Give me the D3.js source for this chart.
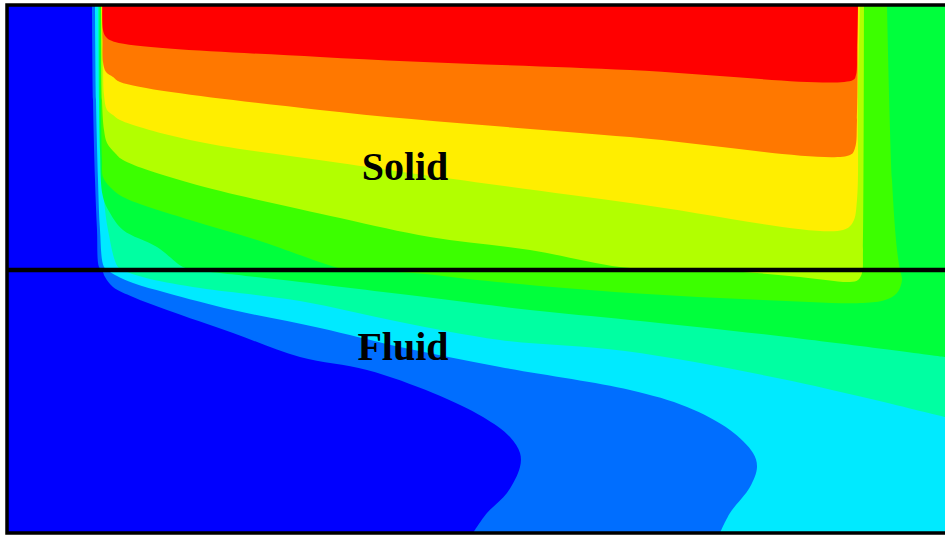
<html>

<head>
  <title></title>
  <style>
    body { margin: 0; background: #fff; }
    text { font-family: 'Liberation Serif', 'Times New Roman', serif; font-weight: bold; }
  </style>
</head>

<body>
<script src='https://cdn.jsdelivr.net/npm/d3@7/dist/d3.min.js'></script>
<script>
// temperature bands, coldest first (background) to hottest
var bandColors = ['#0000ff', '#006eff', '#00eaff', '#00ffa2', '#00ff3c', '#3cff00', '#b2ff00', '#ffee00', '#ff7800', '#ff0000']

// x along the plate (mm), y from the solid/fluid interface (mm, solid > 0)
var xRange = [0, 93.8]
var yRange = [-26.3, 26.5]

// iso lines: lower edge of every band above the coldest one
var iso1 = [[8.5, 26.5], [8.6, 17.0], [8.8, 9.0], [9.0, 4.0], [9.2, 0.3], [9.5, 0], [9.8, -0.7], [10.6, -1.7],
  [12.6, -2.7], [16.0, -4.0], [22.6, -6.3], [29.3, -8.7], [36.0, -10.0], [42.6, -12.3], [47.6, -14.7],
  [50.3, -16.7], [51.3, -18.3], [51.3, -19.7], [50.0, -22.3], [48.0, -24.3], [46.6, -26.3]]
var iso2 = [[8.8, 26.5], [8.9, 17.0], [9.1, 9.0], [9.3, 4.0], [9.7, 0.3], [10.3, -0.2], [11.0, -0.6], [12.6, -1.3],
  [16.0, -2.3], [22.6, -4.0], [31.3, -5.8], [39.3, -7.7], [49.3, -9.7], [62.3, -12.0], [68.0, -13.7],
  [72.3, -16.0], [74.6, -18.3], [75.0, -19.7], [74.3, -21.7], [72.3, -24.3], [71.3, -26.3]]
var iso3 = [[9.1, 26.5], [9.2, 17.0], [9.4, 11.0], [9.7, 7.0], [10.1, 4.0], [11.1, 0.3], [12.0, -0.2], [14.3, -0.9],
  [19.3, -1.8], [29.3, -3.1], [39.3, -5.2], [49.3, -7.0], [61.8, -8.1], [78.0, -11.0], [93.8, -14.7]]
var iso4 = [[9.25, 26.5], [9.3, 12.0], [9.6, 7.3], [10.3, 5.7], [11.6, 4.0], [15.0, 2.3], [17.6, 0.3], [18.8, 0],
  [21.3, -0.3], [29.3, -1.2], [42.6, -2.8], [52.3, -4.0], [62.3, -5.0], [78.0, -6.7], [93.8, -8.7]]
var iso5 = [[9.35, 26.5], [9.4, 17.0], [9.5, 11.0], [9.6, 9.3], [10.3, 8.3], [11.6, 7.3], [18.3, 5.0], [25.0, 3.0],
  [32.8, 0.3], [34.3, 0], [40.6, -0.3], [49.0, -1.2], [62.3, -2.3], [75.6, -3.0], [85.6, -3.3], [87.8, -3.0],
  [89.0, -2.3], [89.5, -1.0], [89.3, 0], [89.0, 2.0], [88.5, 9.0], [88.0, 26.5]]
var iso6 = [[9.4, 26.5], [9.5, 17.0], [9.7, 14.0], [10.0, 12.7], [10.8, 11.7], [11.6, 11.0], [18.3, 8.7], [33.3, 5.2],
  [42.3, 3.3], [52.3, 2.0], [61.3, 0.3], [67.3, 0], [73.6, -0.2], [79.3, -0.7], [84.3, -1.2], [85.1, -1.0],
  [85.5, -0.3], [85.6, 2.0], [85.7, 26.5]]
var iso7 = [[9.45, 26.5], [9.6, 21.0], [9.7, 17.5], [10.0, 16.0], [10.6, 15.5], [11.3, 15.0], [18.3, 13.0],
  [33.3, 10.7], [62.3, 6.7], [83.6, 4.0], [84.6, 4.8], [85.0, 7.0], [85.1, 17.0], [85.3, 26.5]]
var iso8 = [[9.5, 26.5], [9.55, 23.0], [9.6, 20.8], [9.9, 19.8], [10.6, 19.3], [11.3, 18.8], [31.3, 16.0],
  [62.3, 13.3], [84.3, 11.5], [84.8, 12.2], [85.0, 15.0], [85.1, 26.5]]
var iso9 = [[9.55, 26.5], [9.6, 24.0], [9.9, 23.3], [10.8, 22.8], [31.3, 21.3], [62.3, 20.0], [84.6, 19.0],
  [84.9, 19.5], [85.0, 22.0], [85.1, 26.5]]
var isoLines = [iso1, iso2, iso3, iso4, iso5, iso6, iso7, iso8, iso9]

var labels = [{ text: 'Solid', x: 39.8, y: 9.0 }, { text: 'Fluid', x: 39.6, y: -9.0 }]

var width = 945
var height = 535

var svg = d3.select('body')
  .append('svg')
  .attr('width', width)
  .attr('height', height)

var xScale = d3.scaleLinear().domain(xRange).range([7, 945])
var yScale = d3.scaleLinear().domain(yRange).range([533, 5])

svg.append('clipPath')
  .attr('id', 'plot')
  .append('rect')
  .attr('x', xScale(xRange[0]))
  .attr('y', yScale(yRange[1]))
  .attr('width', xScale(xRange[1]) - xScale(xRange[0]))
  .attr('height', yScale(yRange[0]) - yScale(yRange[1]))

var g = svg.append('g').attr('clip-path', 'url(#plot)')

var iso = d3.line()
  .x(d => xScale(d[0]))
  .y(d => yScale(d[1]))
  .curve(d3.curveCatmullRom)

// close a band along the domain edges (bottom -> right -> top)
function bandPath(pts) {
  var last = pts[pts.length - 1]
  var tail = []
  if (last[1] === yRange[0]) tail.push([xRange[1], yRange[0]], [xRange[1], yRange[1]])
  else if (last[0] === xRange[1]) tail.push([xRange[1], yRange[1]])
  return iso(pts) + tail.map(p => 'L' + xScale(p[0]) + ',' + yScale(p[1])).join('') + 'Z'
}

g.append('rect')
  .attr('x', 0)
  .attr('y', 0)
  .attr('width', width)
  .attr('height', height)
  .attr('fill', bandColors[0])

g.selectAll('path.band')
  .data(isoLines)
  .enter()
  .append('path')
  .attr('class', 'band')
  .attr('d', d => bandPath(d))
  .attr('fill', (d, i) => bandColors[i + 1])

// solid / fluid interface
svg.append('line')
  .attr('x1', xScale(xRange[0]))
  .attr('x2', xScale(xRange[1]))
  .attr('y1', yScale(0))
  .attr('y2', yScale(0))
  .attr('stroke', '#000')
  .attr('stroke-width', 4.5)

// frame
svg.append('path')
  .attr('d', 'M' + xScale(xRange[1]) + ',' + yScale(yRange[1]) +
    'H' + xScale(xRange[0]) + 'V' + yScale(yRange[0]) + 'H' + xScale(xRange[1]))
  .attr('fill', 'none')
  .attr('stroke', '#000')
  .attr('stroke-width', 3.5)

svg.selectAll('text.label')
  .data(labels)
  .enter()
  .append('text')
  .attr('class', 'label')
  .attr('x', d => xScale(d.x))
  .attr('y', d => yScale(d.y))
  .attr('text-anchor', 'middle')
  .attr('font-size', 40)
  .attr('fill', '#000')
  .text(d => d.text)
</script>
</body>

</html>
